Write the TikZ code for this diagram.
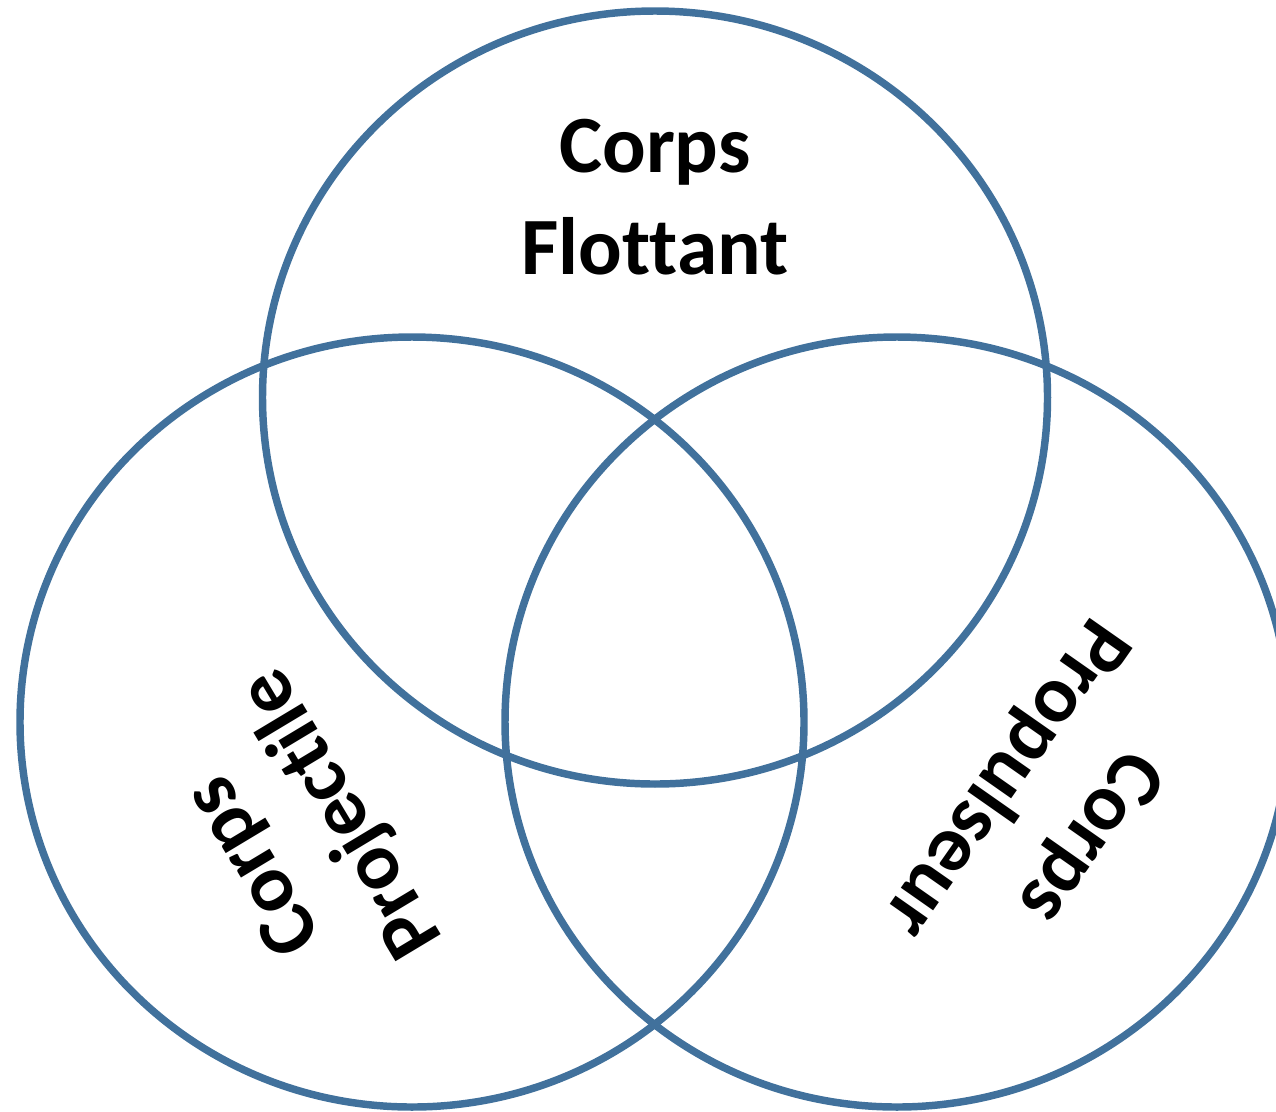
\documentclass[tikz,border=0pt]{standalone}
\usepackage{fontspec}
\setmainfont{Carlito}[Ligatures={NoCommon,NoRare}]
\definecolor{ringblue}{HTML}{41719C}
\begin{document}
\begin{tikzpicture}[x=0.75pt,y=-0.75pt,
  ring/.style={draw=ringblue,line width=5.6pt},
  lbl/.style={font=\bfseries\fontsize{61}{77}\selectfont,align=center,inner sep=0pt}]
\useasboundingbox (0,0) rectangle (1276,1111);
\begin{scope}
\clip (0,0) rectangle (1276,1111);
\draw[ring] (655,397.5) ellipse [x radius=392.5, y radius=386.5];
\draw[ring] (412,722) ellipse [x radius=392, y radius=385];
\draw[ring] (897,722) ellipse [x radius=392, y radius=385];
\end{scope}
\node[lbl] (flot) at (655,197) {Corps\\Flottant};
\node[lbl, rotate=121] (proj) at (300,838) {Corps\\Projectile};
\node[lbl, rotate=235] (prop) at (1046,806) {Corps\\Propulseur};
\end{tikzpicture}
\end{document}
